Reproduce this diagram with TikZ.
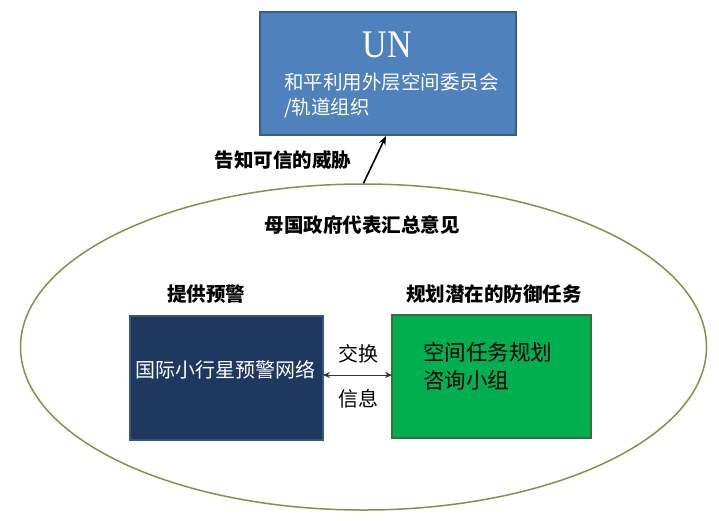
\documentclass[tikz,border=0pt]{standalone}
\usepackage{fontspec}
\setmainfont{Liberation Serif}
\newfontfamily\cjk{Noto Sans CJK SC}
\usetikzlibrary{arrows.meta,shapes.geometric}
\definecolor{unblue}{RGB}{79,129,189}
\definecolor{unedge}{RGB}{56,93,138}
\definecolor{navy}{RGB}{31,56,96}
\definecolor{navyedge}{RGB}{60,85,125}
\definecolor{grn}{RGB}{0,176,80}
\definecolor{grnedge}{RGB}{60,110,60}
\definecolor{olive}{RGB}{125,150,70}
\tikzset{
  box/.style={draw, line width=1.2pt, inner sep=0pt, outer sep=0pt},
  lbl/.style={font=\cjk\bfseries\fontsize{19.5}{22}\selectfont, inner sep=0pt},
  intext/.style={font=\cjk\fontsize{20}{26}\selectfont, inner sep=0pt, align=left},
}
\begin{document}
\begin{tikzpicture}[x=1pt,y=-1pt]
\useasboundingbox (0,0) rectangle (719,520);
% ellipse
\node[draw=olive, line width=1.5pt, ellipse, minimum width=686pt, minimum height=326pt, inner sep=0pt] (ell) at (363.5,347) {};
% UN box
\node[box, draw=unedge, fill=unblue, minimum width=256pt, minimum height=123pt] (un) at (388,73.5) {};
\node[font=\fontsize{34}{34}\selectfont, text=white, inner sep=0pt, yscale=1.15] (untitle) at (387,45) {UN};
\node[intext, text=white, anchor=north west, font=\cjk\fontsize{19.5}{25}\selectfont] (untext) at (284,73) {和平利用外层空间委员会\\/轨道组织};
% arrow to UN
\coordinate (utarget) at (386,136);
\draw[-{Stealth[length=9pt,width=7pt]}, line width=1.6pt] (ell.north) -- (utarget);
\node[lbl] (threat) at (283,160) {告知可信的威胁};
\node[lbl] (summary) at (362,225) {母国政府代表汇总意见};
\node[lbl] (warn) at (206,294) {提供预警};
\node[lbl] (plan) at (494,294) {规划潜在的防御任务};
% inner boxes
\node[box, draw=navyedge, fill=navy, minimum width=193pt, minimum height=124pt] (iawn) at (226.5,378) {};
\node[intext, text=white] (iawntext) at (225,370) {国际小行星预警网络};
\node[box, draw=grnedge, fill=grn, minimum width=199pt, minimum height=123pt] (smpag) at (491.5,376.5) {};
\node[intext, text=black, anchor=north west, font=\cjk\fontsize{21.5}{28}\selectfont] (smpagtext) at (423,342) {空间任务规划\\咨询小组};
% exchange arrow
\coordinate (exl) at (iawn.east |- 0,375);
\coordinate (exr) at (smpag.west |- 0,375);
\draw[{Stealth[length=7pt,width=6pt]}-{Stealth[length=7pt,width=6pt]}, line width=1pt, draw=black!80] (exl) -- (exr);
\node[intext] (ex1) at (358,354) {交换};
\node[intext] (ex2) at (358,399) {信息};
\end{tikzpicture}
\end{document}
